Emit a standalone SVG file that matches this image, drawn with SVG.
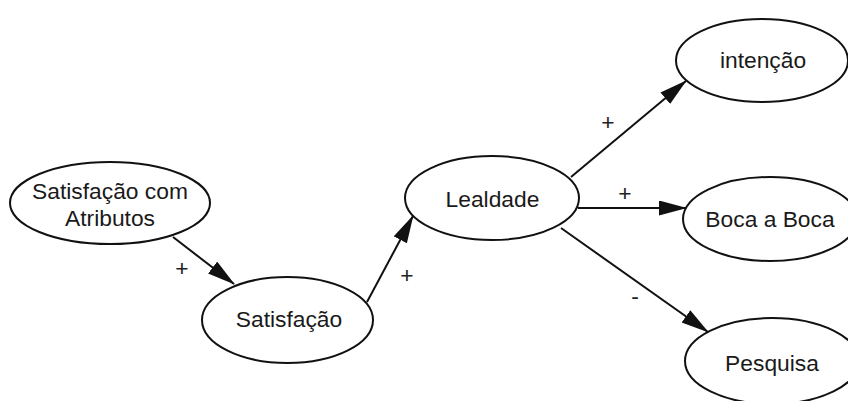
<svg xmlns="http://www.w3.org/2000/svg" width="848" height="401" viewBox="0 0 848 401">
  <style>
    .node ellipse { fill: #ffffff; stroke: #111111; stroke-width: 2; }
    .node text { font-family: "Liberation Sans", Arial, sans-serif; font-size: 22.8px; fill: #1a1a1a; text-anchor: middle; }
    .edge { stroke: #111111; stroke-width: 2; fill: none; marker-end: url(#arrow); }
    .lbl { font-family: "Liberation Sans", Arial, sans-serif; font-size: 22.8px; fill: #222222; text-anchor: middle; }
  </style>
  <defs>
    <marker id="arrow" markerUnits="userSpaceOnUse" markerWidth="28" markerHeight="16" refX="27" refY="7.5" orient="auto">
      <path d="M0,0 L28,7.5 L0,15 z" fill="#111111"/>
    </marker>
  </defs>
  <rect width="848" height="401" fill="#ffffff"/>

  <g id="connectors">
    <line class="edge" x1="173" y1="237" x2="234" y2="284"/>
    <line class="edge" x1="367" y1="302" x2="413" y2="216"/>
    <line class="edge" x1="571" y1="177" x2="686" y2="81"/>
    <line class="edge" x1="578" y1="208" x2="686" y2="208"/>
    <line class="edge" x1="561" y1="228" x2="708" y2="332"/>
    <text class="lbl" x="182" y="276">+</text>
    <text class="lbl" x="407" y="283">+</text>
    <text class="lbl" x="608" y="130">+</text>
    <text class="lbl" x="625" y="201">+</text>
    <text class="lbl" x="635" y="304">-</text>
  </g>

  <g id="node-satisfacao-atributos" class="node">
    <ellipse cx="110" cy="203" rx="100" ry="41"/>
    <text x="110" y="199">Satisfação com</text>
    <text x="110" y="226">Atributos</text>
  </g>
  <g id="node-satisfacao" class="node">
    <ellipse cx="287.5" cy="320" rx="85.5" ry="43"/>
    <text x="289" y="327">Satisfação</text>
  </g>
  <g id="node-lealdade" class="node">
    <ellipse cx="492" cy="198" rx="87" ry="42"/>
    <text x="492.5" y="207">Lealdade</text>
  </g>
  <g id="node-intencao" class="node">
    <ellipse cx="762" cy="60.5" rx="86" ry="41.5"/>
    <text x="763" y="68">intenção</text>
  </g>
  <g id="node-boca" class="node">
    <ellipse cx="770" cy="219" rx="87" ry="42"/>
    <text x="770" y="227">Boca a Boca</text>
  </g>
  <g id="node-pesquisa" class="node">
    <ellipse cx="772" cy="361" rx="87" ry="43"/>
    <text x="772" y="371">Pesquisa</text>
  </g>
</svg>
